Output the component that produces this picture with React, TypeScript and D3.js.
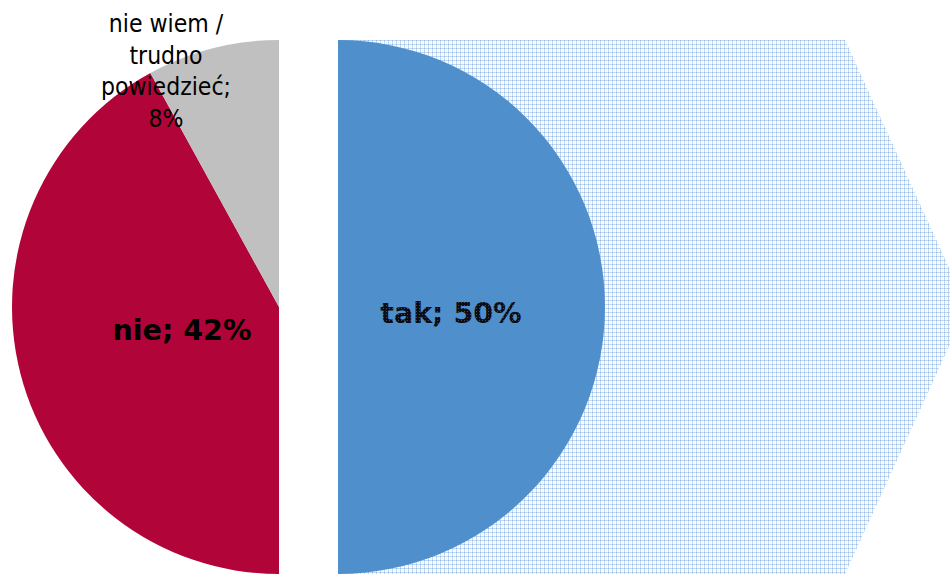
import React, { useEffect } from "react";
import * as d3 from "d3";

const categories = ["tak", "nie", "nie wiem / trudno powiedzieć"];
const values = [50, 42, 8];
const labelLines = [["tak; 50%"], ["nie; 42%"], ["nie wiem /", "trudno", "powiedzieć;", "8%"]];
const colors = ["#4f8fcc", "#b10539", "#c0c0c0"];

const W = 950;
const H = 574;

export default function App() {
  useEffect(() => {
    document.body.style.margin = "0";
  }, []);

  const cx = 279;
  const cy = 307;
  const r = 267;
  const explode = 59;

  const pie = d3.pie<number>().sort(null).value((d) => d)(values);
  const arc = d3.arc<d3.PieArcDatum<number>>().innerRadius(0).outerRadius(r);

  const ax = d3.scaleLinear().domain([0, 1]).range([cx + explode, 967]);
  const arrowPts: [number, number][] = [
    [ax(0), cy - r],
    [845, cy - r],
    [ax(1), cy],
    [845, cy + r],
    [ax(0), cy + r],
  ];
  const arrowPath = d3.line()(arrowPts) + "Z";

  return (
    <svg width={W} height={H} style={{ display: "block" }}>
      <defs>
        <pattern id="grid" width="4" height="4" patternUnits="userSpaceOnUse">
          <rect width="4" height="4" fill="#ffffff" />
          <rect x="0" y="0" width="1" height="4" fill="#c2d8f1" />
          <rect x="0" y="0" width="4" height="1" fill="#c2d8f1" />
          <rect x="0" y="0" width="1" height="1" fill="#9dbfe7" />
          <rect x="2" y="2" width="1" height="1" fill="#e3edf8" />
        </pattern>
        <pattern id="textpat" width="3" height="3" patternUnits="userSpaceOnUse">
          <rect width="3" height="3" fill="#0d0d14" />
          <rect x="2" y="2" width="1" height="1" fill="#3a4a66" />
        </pattern>
      </defs>
      <path d={arrowPath} fill="url(#grid)" />
      {pie.map((p, i) => {
        const dx = i === 0 ? explode : 0;
        return (
          <path
            key={categories[i]}
            d={arc(p) || ""}
            transform={`translate(${cx + dx},${cy})`}
            fill={colors[i]}
          />
        );
      })}
      <text
        x={451}
        y={323}
        textAnchor="middle"
        fontFamily="DejaVu Sans"
        fontWeight="bold"
        fontSize={28.5}
        fill="url(#textpat)"
      >
        {labelLines[0][0]}
      </text>
      <text
        x={182}
        y={340}
        textAnchor="middle"
        fontFamily="DejaVu Sans"
        fontWeight="bold"
        fontSize={28.5}
        fill="#000"
      >
        {labelLines[1][0]}
      </text>
      {labelLines[2].map((line, j) => (
        <text
          key={j}
          x={166}
          y={32 + j * 31.5}
          textAnchor="middle"
          fontFamily="DejaVu Sans Condensed, DejaVu Sans"
          fontSize={24.5}
          fill="#000"
        >
          {line}
        </text>
      ))}
    </svg>
  );
}
